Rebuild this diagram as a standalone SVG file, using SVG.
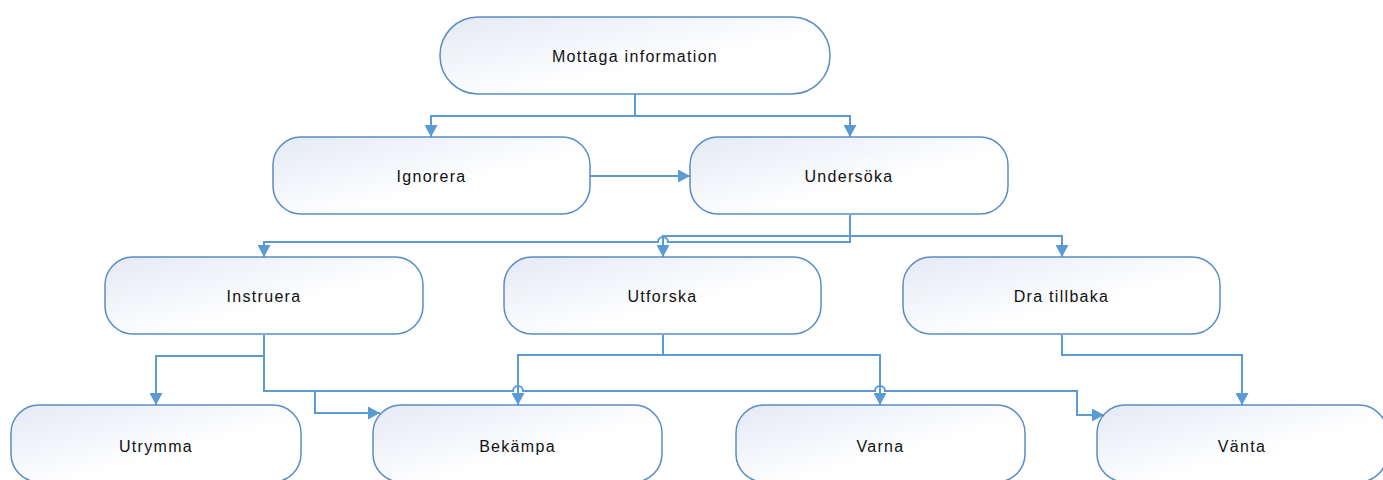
<svg xmlns="http://www.w3.org/2000/svg" width="1383" height="480" viewBox="0 0 1383 480">
<style>
.node rect{fill:url(#g);stroke:#5a8cc6;stroke-width:1.5}
.node text{font-family:"Liberation Sans",Arial,sans-serif;font-size:16px;letter-spacing:1.3px;fill:#111;text-anchor:middle}
.conn path{fill:none;stroke:#5b9bd5;stroke-width:2}
.arr{marker-end:url(#ah)}
</style>
<defs>
<linearGradient id="g" x1="0" y1="0" x2="1" y2="1">
<stop offset="0" stop-color="#e4e9f5"/>
<stop offset="0.6" stop-color="#ffffff"/>
<stop offset="1" stop-color="#ffffff"/>
</linearGradient>
<marker id="ah" markerUnits="userSpaceOnUse" markerWidth="13" markerHeight="13" refX="12" refY="6.5" orient="auto">
<path d="M0,0 L12,6.5 L0,13 z" fill="#5b9bd5"/>
</marker>
</defs>
<rect width="1383" height="480" fill="#fff"/>
<g class="conn">
<path class="arr" d="M635,94 V116 H431 V137"/>
<path class="arr" d="M635,116 H850 V137"/>
<path class="arr" d="M590,176 H690"/>
<path class="arr" d="M850,215 V236 H663 V257"/>
<path class="arr" d="M850,236 H1062 V257"/>
<path class="arr" d="M850,215 V242 H668 A5,5 0 0 0 658,242 H264 V257"/>
<path class="arr" d="M264,335 V356 H156 V405"/>
<path class="arr" d="M264,335 V391 H315 V413 H380"/>
<path class="arr" d="M315,391 H513 A5,5 0 0 1 523,391 H875 A5,5 0 0 1 885,391 H1077 V415 H1104"/>
<path class="arr" d="M663,335 V355 H518 V405"/>
<path class="arr" d="M663,355 H880 V405"/>
<path class="arr" d="M1062,335 V355 H1242 V405"/>
</g>
<g id="n-mottaga" class="node"><rect x="440" y="17" width="390" height="77" rx="38" ry="38"/><text x="635" y="61.5">Mottaga information</text></g>
<g id="n-ignorera" class="node"><rect x="273" y="137" width="317" height="77" rx="28" ry="28"/><text x="431.5" y="181.5">Ignorera</text></g>
<g id="n-undersoka" class="node"><rect x="690" y="137" width="318" height="77" rx="28" ry="28"/><text x="849" y="181.5">Undersöka</text></g>
<g id="n-instruera" class="node"><rect x="105" y="257" width="318" height="77" rx="28" ry="28"/><text x="264" y="301.5">Instruera</text></g>
<g id="n-utforska" class="node"><rect x="504" y="257" width="317" height="77" rx="28" ry="28"/><text x="662.5" y="301.5">Utforska</text></g>
<g id="n-dra" class="node"><rect x="903" y="257" width="317" height="77" rx="28" ry="28"/><text x="1061.5" y="301.5">Dra tillbaka</text></g>
<g id="n-utrymma" class="node"><rect x="11" y="405" width="290" height="77" rx="28" ry="28"/><text x="156" y="451.5">Utrymma</text></g>
<g id="n-bekampa" class="node"><rect x="373" y="405" width="289" height="77" rx="28" ry="28"/><text x="517.5" y="451.5">Bekämpa</text></g>
<g id="n-varna" class="node"><rect x="736" y="405" width="289" height="77" rx="28" ry="28"/><text x="880.5" y="451.5">Varna</text></g>
<g id="n-vanta" class="node"><rect x="1097" y="405" width="290" height="77" rx="28" ry="28"/><text x="1242" y="451.5">Vänta</text></g>
</svg>
